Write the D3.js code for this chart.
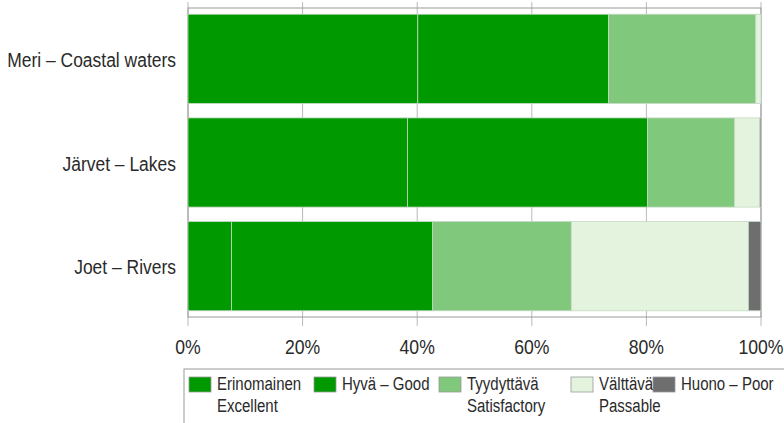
<!DOCTYPE html>
<html>
<head>
<meta charset="utf-8">
<script src="https://cdn.jsdelivr.net/npm/d3@7"></script>
<style>
  body { margin: 0; background: #fff; }
  svg text { font-family: "Liberation Sans", Arial, sans-serif; fill: #2a2a2a; }
</style>
</head>
<body>
<div id="chart"></div>
<script>
// water quality classes, share of each class (%)
const categories = ["Meri – Coastal waters", "Järvet – Lakes", "Joet – Rivers"];
const seriesKeys = ["excellent", "good", "satisfactory", "passable", "poor"];
const excellent = [40.1, 38.3, 7.6];
const good = [33.3, 41.9, 35.1];
const satisfactory = [25.7, 15.2, 24.2];
const passable = [0.9, 4.4, 30.9];
const poor = [0, 0.2, 2.2];
const legendLabels = [["Erinomainen", "Excellent"], ["Hyvä – Good"], ["Tyydyttävä", "Satisfactory"], ["Välttävä", "Passable"], ["Huono – Poor"]];
const tickValues = [0, 20, 40, 60, 80, 100];

const colors = {
    excellent: "#009a00",
    good: "#009a00",
    satisfactory: "#80c97c",
    passable: "#e3f3de",
    poor: "#6e6e6e"
};

const width = 784, height = 423;
const narrow = 0.84; // condensed look of the original type

const svg = d3.select("#chart").append("svg")
    .attr("width", width)
    .attr("height", height);

const x = d3.scaleLinear().domain([0, 100]).range([188, 761]);
const y = d3.scaleBand().domain(categories).range([8, 317])
    .paddingInner(0.14).paddingOuter(0.06);

const series = { excellent, good, satisfactory, passable, poor };
const rows = categories.map((c, i) => {
    const r = { category: c };
    seriesKeys.forEach(k => r[k] = series[k][i]);
    return r;
});
const stacked = d3.stack().keys(seriesKeys)(rows);

// gridlines (visible between the bars)
svg.append("g")
    .selectAll("line")
    .data(tickValues)
    .join("line")
    .attr("x1", d => x(d)).attr("x2", d => x(d))
    .attr("y1", 2).attr("y2", 326)
    .attr("stroke", "#b9b9b9")
    .attr("stroke-width", 1);

// frame
svg.append("rect")
    .attr("x", x(0)).attr("y", 8)
    .attr("width", x(100) - x(0)).attr("height", 309)
    .attr("fill", "none")
    .attr("stroke", "#9a9a9a")
    .attr("stroke-width", 1);

svg.append("g")
    .selectAll("g")
    .data(stacked)
    .join("g")
    .attr("fill", d => colors[d.key])
    .selectAll("rect")
    .data(d => d)
    .join("rect")
    .attr("x", d => x(d[0]))
    .attr("y", d => y(d.data.category))
    .attr("width", d => x(d[1]) - x(d[0]))
    .attr("height", y.bandwidth())
    .attr("stroke", "#c4d8c4")
    .attr("stroke-width", d => (d[1] - d[0]) > 0 ? 0.8 : 0);

// category labels
svg.append("g")
    .selectAll("text")
    .data(categories)
    .join("text")
    .attr("transform", d => `translate(176,${y(d) + y.bandwidth() / 2 + 1}) scale(${narrow},1)`)
    .attr("dy", "0.35em")
    .attr("text-anchor", "end")
    .attr("font-size", 20.8)
    .text(d => d);

// x tick labels
svg.append("g")
    .selectAll("text")
    .data(tickValues)
    .join("text")
    .attr("transform", d => `translate(${x(d)},354) scale(${narrow},1)`)
    .attr("text-anchor", "middle")
    .attr("font-size", 21)
    .text(d => d + "%");

// legend
const legendX = [189, 314, 439, 571, 653];
svg.append("rect")
    .attr("x", 184).attr("y", 369)
    .attr("width", 640).attr("height", 80)
    .attr("fill", "none")
    .attr("stroke", "#9a9a9a");

const items = svg.append("g")
    .selectAll("g")
    .data(seriesKeys)
    .join("g")
    .attr("transform", (d, i) => `translate(${legendX[i]},0)`);

items.append("rect")
    .attr("x", 0).attr("y", 377)
    .attr("width", 22).attr("height", 15)
    .attr("fill", d => colors[d])
    .attr("stroke", "#999")
    .attr("stroke-width", 0.8);

items.each(function (d, i) {
    d3.select(this).selectAll("text")
        .data(legendLabels[i])
        .join("text")
        .attr("transform", (t, j) => `translate(28,${390 + j * 22}) scale(0.79,1)`)
        .attr("font-size", 19)
        .text(t => t);
});
</script>
</body>
</html>
